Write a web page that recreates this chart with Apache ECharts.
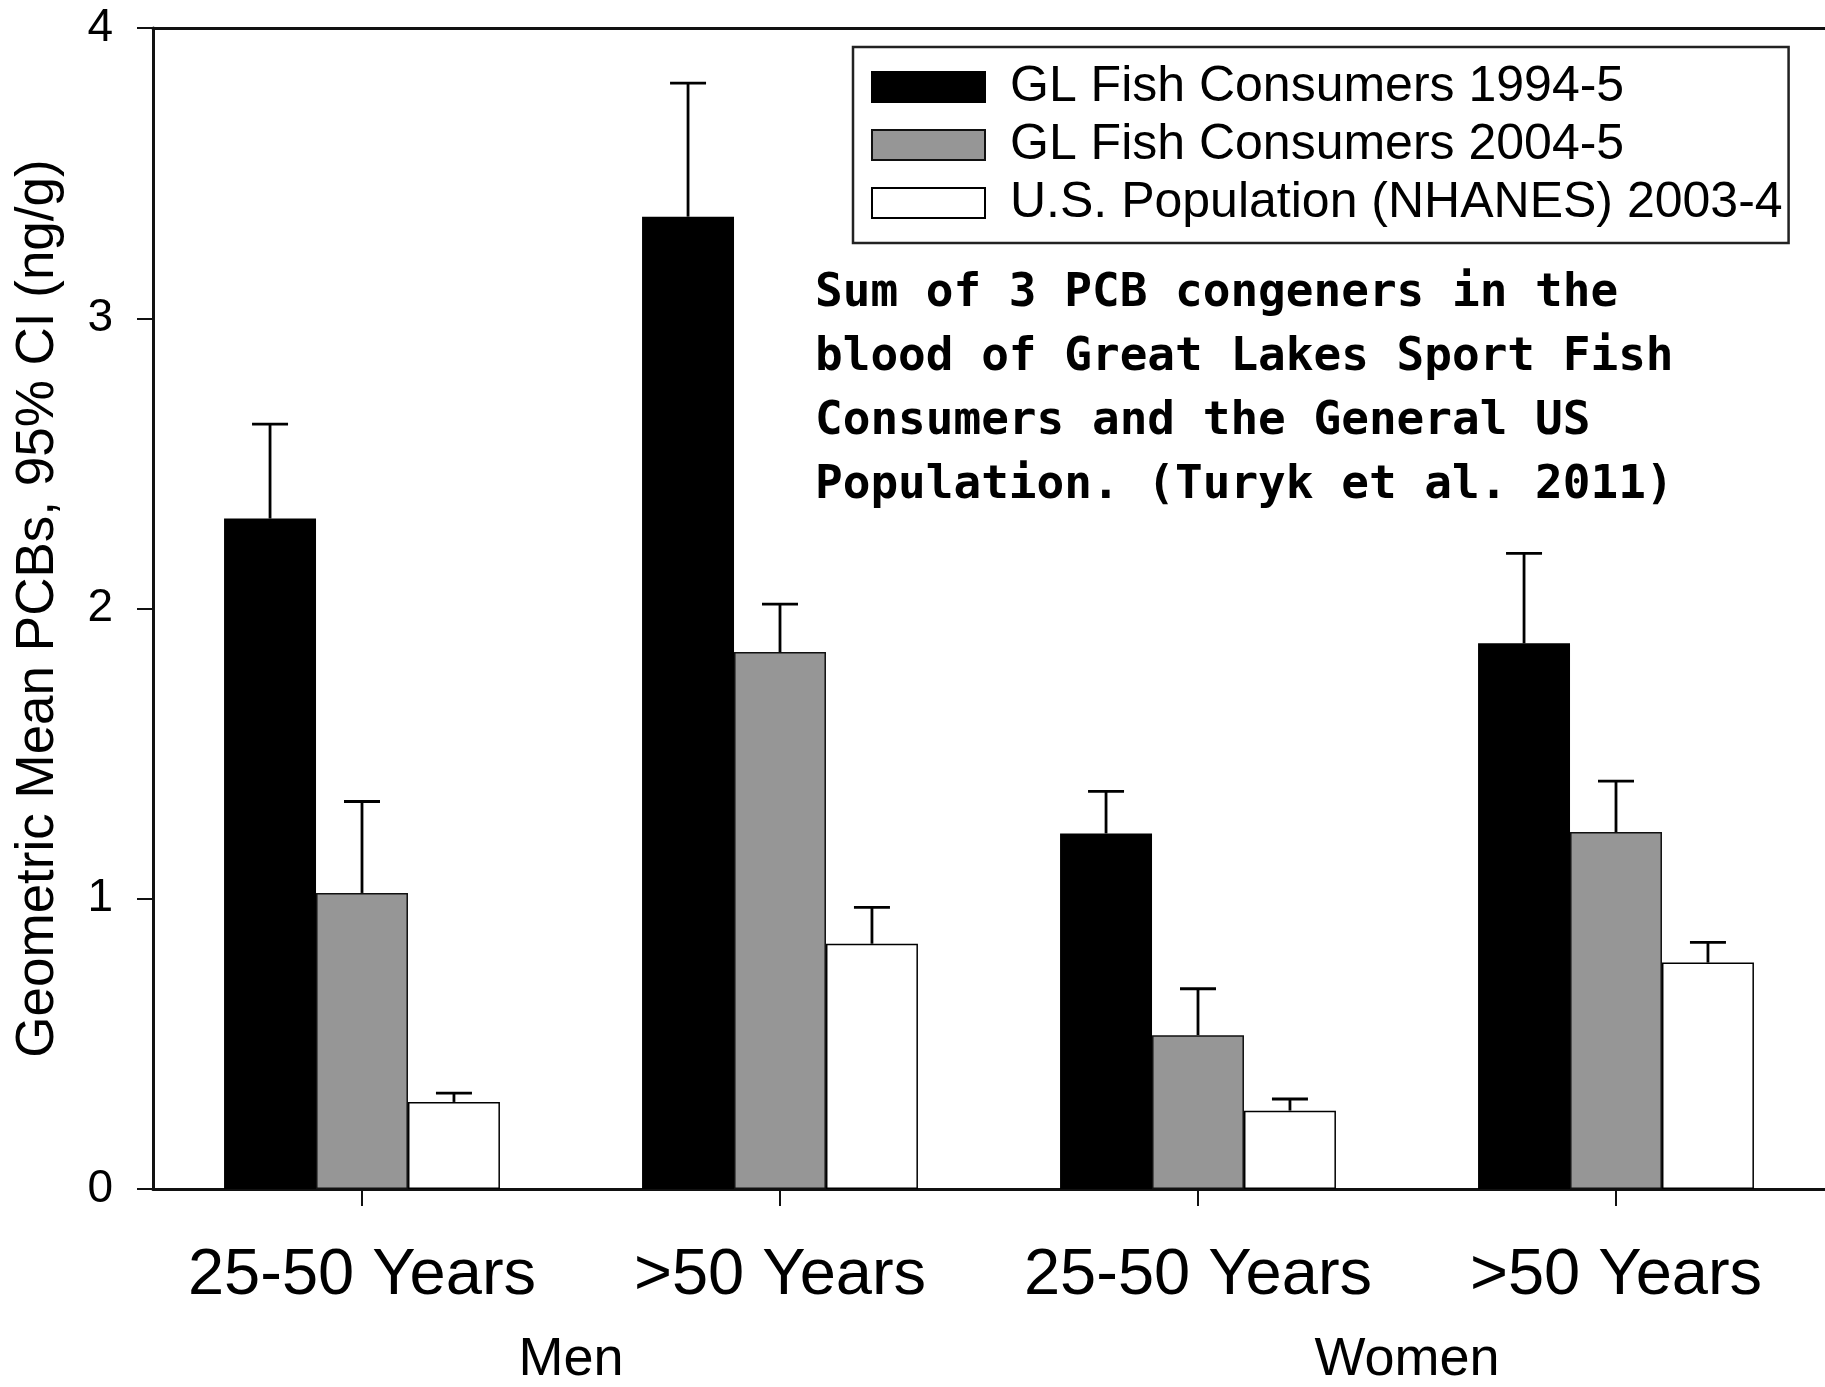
<!DOCTYPE html>
<html>
<head>
<meta charset="utf-8">
<script src="https://cdn.jsdelivr.net/npm/echarts@6/dist/echarts.min.js"></script>
<style>
html,body{margin:0;padding:0;background:#fff;}
#chart{width:1825px;height:1387px;}
</style>
</head>
<body>
<div id="chart"></div>
<script>
const categories = ['25-50 Years', '>50 Years', '25-50 Years', '>50 Years'];
const groups = ['Men', 'Women'];
const seriesNames = ['GL Fish Consumers 1994-5', 'GL Fish Consumers 2004-5', 'U.S. Population (NHANES) 2003-4'];
const gl1994 = [2.31, 3.35, 1.225, 1.88];
const gl1994Upper = [2.635, 3.81, 1.37, 2.19];
const gl2004 = [1.02, 1.85, 0.53, 1.23];
const gl2004Upper = [1.335, 2.015, 0.69, 1.405];
const nhanes = [0.30, 0.845, 0.27, 0.78];
const nhanesUpper = [0.33, 0.97, 0.31, 0.85];
const yTicks = [0, 1, 2, 3, 4];
const yTitle = 'Geometric Mean PCBs, 95% CI (ng/g)';
const noteLines = ['Sum of 3 PCB congeners in the', 'blood of Great Lakes Sport Fish', 'Consumers and the General US', 'Population. (Turyk et al. 2011)'];

const BAR_FRAC = 0.22;
const sans = '"Liberation Sans", Arial, sans-serif';

function errSeries(idx, means, uppers) {
  return {
    type: 'custom',
    name: 'err' + idx,
    xAxisIndex: 0,
    yAxisIndex: 0,
    z: 5,
    silent: true,
    data: means.map((m, i) => [i, m, uppers[i]]),
    renderItem: function (params, api) {
      const base = api.coord([api.value(0), api.value(1)]);
      const top = api.coord([api.value(0), api.value(2)]);
      const cw = api.size([1, 0])[0];
      const x = base[0] + (idx - 1) * cw * BAR_FRAC;
      return {
        type: 'group',
        children: [
          { type: 'line', shape: { x1: x, y1: base[1], x2: x, y2: top[1] }, style: { stroke: '#000', lineWidth: 2.8 } },
          { type: 'line', shape: { x1: x - 18, y1: top[1], x2: x + 18, y2: top[1] }, style: { stroke: '#000', lineWidth: 2.8 } }
        ]
      };
    }
  };
}

const chart = echarts.init(document.getElementById('chart'), null, { renderer: 'canvas' });
chart.setOption({
  backgroundColor: '#fff',
  animation: false,
  grid: { left: 153, top: 28, width: 1677, bottom: 194, containLabel: false },
  legend: {
    data: seriesNames,
    orient: 'vertical',
    left: 853,
    top: 47,
    padding: [15, 6, 15, 18],
    icon: 'rect',
    itemWidth: 113,
    itemHeight: 30,
    itemGap: 8,
    borderColor: '#222',
    borderWidth: 2.5,
    textStyle: { fontFamily: sans, fontSize: 50, color: '#000', padding: [0, 0, 0, 20] }
  },
  graphic: [
    {
      type: 'text',
      left: 815,
      top: 262,
      style: {
        text: noteLines.join('\n'),
        font: 'bold 46px "DejaVu Sans Mono", "Liberation Mono", monospace',
        lineHeight: 64,
        fill: '#000'
      }
    }
  ],
  xAxis: [
    {
      type: 'category',
      data: categories,
      position: 'bottom',
      axisLine: { show: true, lineStyle: { color: '#111', width: 3 } },
      axisTick: { show: true, alignWithLabel: true, interval: 0, length: 17, lineStyle: { color: '#111', width: 2 } },
      axisLabel: { fontFamily: sans, fontSize: 65, color: '#000', margin: 55, interval: 0 },
      splitLine: { show: false }
    },
    {
      type: 'category',
      data: groups,
      position: 'bottom',
      axisLine: { show: false },
      axisTick: { show: false },
      axisLabel: { fontFamily: sans, fontSize: 54, color: '#000', margin: 144, interval: 0 },
      splitLine: { show: false }
    },
    {
      type: 'category',
      data: categories,
      position: 'top',
      axisLine: { show: true, lineStyle: { color: '#111', width: 3 } },
      axisTick: { show: false },
      axisLabel: { show: false },
      splitLine: { show: false }
    }
  ],
  yAxis: {
    type: 'value',
    min: yTicks[0],
    max: yTicks[yTicks.length - 1],
    interval: 1,
    name: yTitle,
    nameLocation: 'middle',
    nameGap: 88,
    nameTextStyle: { fontFamily: sans, fontSize: 53, color: '#000' },
    axisLine: { show: true, lineStyle: { color: '#111', width: 3 } },
    axisTick: { show: true, length: 16, lineStyle: { color: '#111', width: 2 } },
    axisLabel: { fontFamily: sans, fontSize: 46, color: '#000', margin: 40 },
    splitLine: { show: false }
  },
  series: [
    {
      type: 'bar', name: seriesNames[0], data: gl1994, xAxisIndex: 0,
      barWidth: (BAR_FRAC * 100) + '%', barGap: '0%',
      itemStyle: { color: '#000', borderColor: '#000', borderWidth: 1.5 }
    },
    {
      type: 'bar', name: seriesNames[1], data: gl2004, xAxisIndex: 0,
      barWidth: (BAR_FRAC * 100) + '%', barGap: '0%',
      itemStyle: { color: '#969696', borderColor: '#111', borderWidth: 1.5 }
    },
    {
      type: 'bar', name: seriesNames[2], data: nhanes, xAxisIndex: 0,
      barWidth: (BAR_FRAC * 100) + '%', barGap: '0%',
      itemStyle: { color: '#fff', borderColor: '#000', borderWidth: 1.5 }
    },
    errSeries(0, gl1994, gl1994Upper),
    errSeries(1, gl2004, gl2004Upper),
    errSeries(2, nhanes, nhanesUpper)
  ]
});
</script>
</body>
</html>
